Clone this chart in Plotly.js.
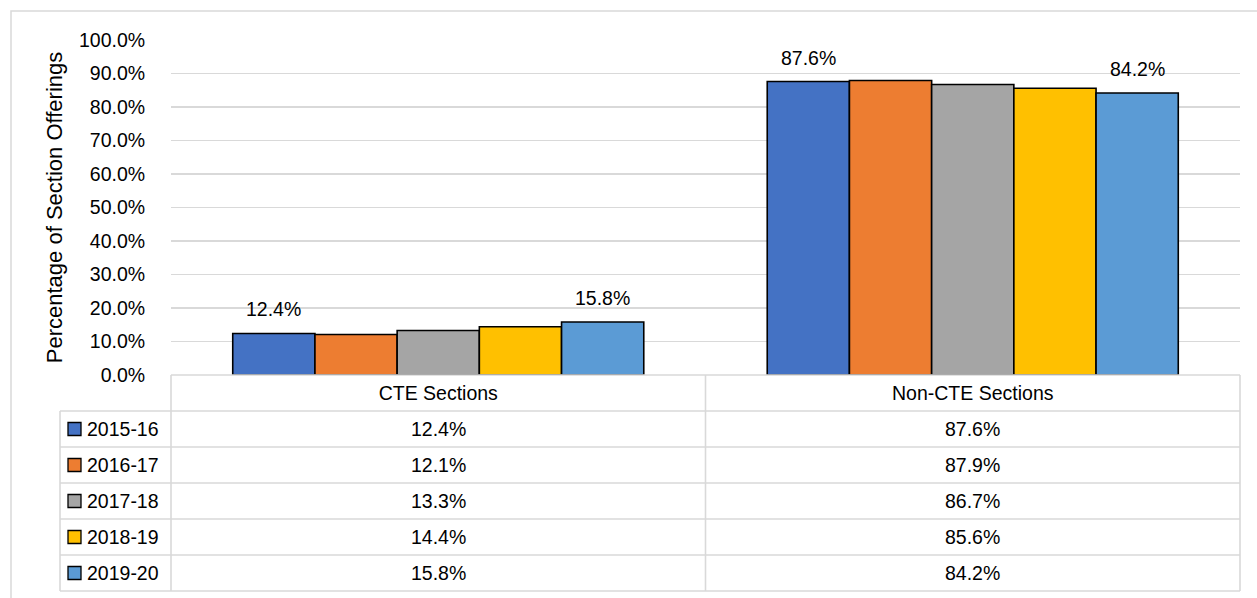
<!DOCTYPE html>
<html>
<head>
<meta charset="utf-8">
<script src="https://cdn.plot.ly/plotly-3.0.1.min.js"></script>
<style>html,body{margin:0;padding:0;background:#fff;}#chart{width:1257px;height:598px;}</style>
</head>
<body>
<div id="chart"></div>
<script>
// ---- data ----
const categories = ["CTE Sections", "Non-CTE Sections"];
const seriesNames = ["2015-16", "2016-17", "2017-18", "2018-19", "2019-20"];
const cteValues = [0.124, 0.121, 0.133, 0.144, 0.158];
const nonCteValues = [0.876, 0.879, 0.867, 0.856, 0.842];
const seriesColors = ["#4472C4", "#ED7D31", "#A5A5A5", "#FFC000", "#5B9BD5"];
const labeledSeries = [0, 4];

// ---- layout constants ----
const W = 1257, H = 598;
const mL = 171, mR = 17, mT = 40, mB = 223;
const plotW = W - mL - mR, plotH = H - mT - mB;
const bargap = 0.231;
const FONT = "Liberation Sans, Arial, sans-serif";
const FS = 19.5;
const gridCol = "#d9d9d9";

const px2x = p => (p - mL) / plotW;
const px2y = p => (H - mB - p) / plotH;

const traces = seriesNames.map((name, i) => ({
  type: "bar",
  name: name,
  x: categories,
  y: [cteValues[i], nonCteValues[i]],
  marker: {color: seriesColors[i], line: {color: "#000", width: 1.6}},
  hoverinfo: "none"
}));

const shapes = [];
const annotations = [];

// outer chart border
shapes.push({type: "rect", xref: "paper", yref: "paper",
  x0: px2x(11), x1: px2x(1265), y0: px2y(11), y1: px2y(610),
  line: {color: gridCol, width: 1.5}, fillcolor: "rgba(0,0,0,0)", layer: "below"});

// table geometry
const tableTop = H - mB;          // 375
const headerBottom = 411;
const rowH = 36;
const tableLeft = 60;
const tableBottom = headerBottom + rowH * seriesNames.length;

// horizontal lines
shapes.push({type: "line", xref: "paper", yref: "paper",
  x0: 0, x1: 1, y0: px2y(tableTop), y1: px2y(tableTop), line: {color: gridCol, width: 1.6}});
for (let r = 0; r <= seriesNames.length; r++) {
  const yp = headerBottom + r * rowH;
  shapes.push({type: "line", xref: "paper", yref: "paper",
    x0: px2x(tableLeft), x1: 1, y0: px2y(yp), y1: px2y(yp), line: {color: gridCol, width: 1.6}});
}
// vertical lines
shapes.push({type: "line", xref: "paper", yref: "paper",
  x0: px2x(tableLeft), x1: px2x(tableLeft), y0: px2y(headerBottom), y1: px2y(tableBottom), line: {color: gridCol, width: 1.6}});
[0, 0.5, 1].forEach(xp => {
  shapes.push({type: "line", xref: "paper", yref: "paper",
    x0: xp, x1: xp, y0: px2y(tableTop), y1: px2y(tableBottom), line: {color: gridCol, width: 1.6}});
});

// table rows: legend keys, series names, values
seriesNames.forEach((name, i) => {
  const cy = headerBottom + i * rowH + rowH / 2;
  shapes.push({type: "rect", xref: "paper", yref: "paper",
    x0: px2x(68), x1: px2x(81), y0: px2y(cy - 6.5), y1: px2y(cy + 6.5),
    fillcolor: seriesColors[i], line: {color: "#000", width: 1.3}});
  annotations.push({xref: "paper", yref: "paper", x: px2x(85), y: px2y(cy),
    xanchor: "left", yanchor: "middle", showarrow: false, text: name,
    font: {family: FONT, size: FS, color: "#000"}});
  [cteValues, nonCteValues].forEach((vals, c) => {
    annotations.push({xref: "x", yref: "paper", x: categories[c], y: px2y(cy),
      xanchor: "center", yanchor: "middle", showarrow: false,
      text: (vals[i] * 100).toFixed(1) + "%",
      font: {family: FONT, size: FS, color: "#000"}});
  });
});

// data labels for first and last series
const barPx = (plotW / categories.length) * (1 - bargap) / seriesNames.length;
labeledSeries.forEach(i => {
  [cteValues, nonCteValues].forEach((vals, c) => {
    annotations.push({xref: "x", yref: "y", x: categories[c], y: vals[i],
      xshift: (i - (seriesNames.length - 1) / 2) * barPx, yshift: 24,
      xanchor: "center", yanchor: "middle", showarrow: false,
      text: (vals[i] * 100).toFixed(1) + "%",
      font: {family: FONT, size: FS, color: "#000"}});
  });
});

const layout = {
  width: W, height: H,
  margin: {l: mL, r: mR, t: mT, b: mB, pad: 0},
  paper_bgcolor: "#fff", plot_bgcolor: "#fff",
  barmode: "group", bargap: bargap, bargroupgap: 0,
  showlegend: false,
  font: {family: FONT, size: FS, color: "#000"},
  xaxis: {
    type: "category", showgrid: false, zeroline: false, showline: false,
    ticks: "outside", ticklen: 1, tickcolor: "rgba(0,0,0,0)",
    tickfont: {family: FONT, size: FS, color: "#000"}, automargin: false, fixedrange: true
  },
  yaxis: {
    range: [0, 1], dtick: 0.1, tickformat: ".1%",
    showgrid: true, gridcolor: gridCol, gridwidth: 1.4, zeroline: false, showline: false,
    ticks: "outside", ticklen: 21, tickcolor: "rgba(0,0,0,0)",
    tickfont: {family: FONT, size: FS, color: "#000"},
    title: {text: "Percentage of Section Offerings", standoff: 10, font: {family: FONT, size: 22, color: "#000"}},
    automargin: false, fixedrange: true
  },
  shapes: shapes,
  annotations: annotations
};

Plotly.newPlot("chart", traces, layout, {displayModeBar: false, staticPlot: true});
</script>
</body>
</html>
